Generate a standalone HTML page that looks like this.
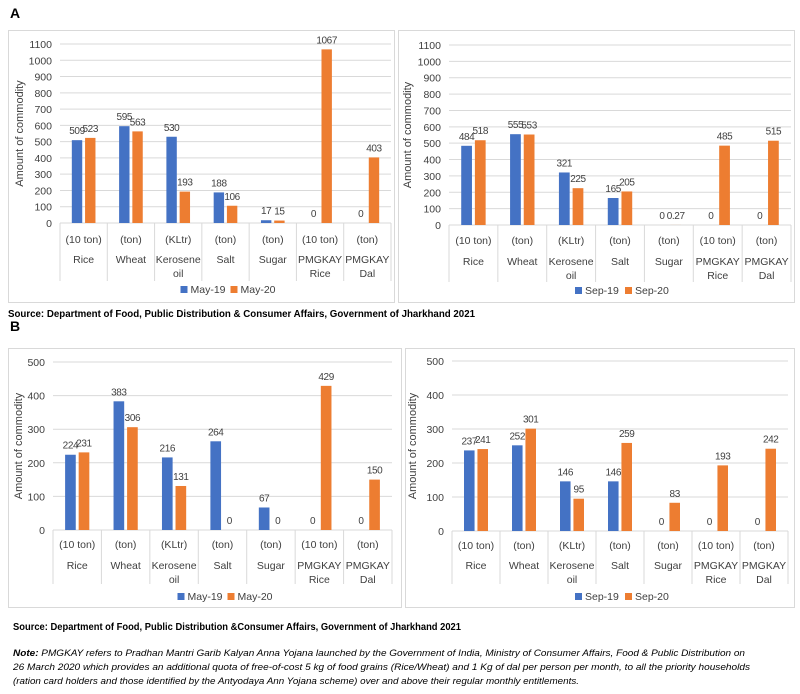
<!DOCTYPE html>
<html><head><meta charset="utf-8"><style>
body{margin:0;background:#fff;}
svg{display:block;font-family:"Liberation Sans",sans-serif;}
</style></head><body>
<svg id="fig" width="800" height="694" viewBox="0 0 800 694">
<text x="10" y="18" font-size="14" font-weight="bold">A</text>
<text x="10" y="331" font-size="14" font-weight="bold">B</text>
<text x="8" y="317" font-size="10" font-weight="bold" textLength="467" lengthAdjust="spacingAndGlyphs">Source: Department of Food, Public Distribution &amp; Consumer Affairs, Government of Jharkhand 2021</text>
<text x="13" y="630" font-size="10" font-weight="bold" textLength="448" lengthAdjust="spacingAndGlyphs">Source: Department of Food, Public Distribution &amp;Consumer Affairs, Government of Jharkhand 2021</text>
<text x="13" y="656" font-size="9.5" font-style="italic" textLength="732" lengthAdjust="spacingAndGlyphs"><tspan font-weight="bold">Note:</tspan> PMGKAY refers to Pradhan Mantri Garib Kalyan Anna Yojana launched by the Government of India, Ministry of Consumer Affairs, Food &amp; Public Distribution on</text>
<text x="13" y="670" font-size="9.5" font-style="italic" textLength="737" lengthAdjust="spacingAndGlyphs">26 March 2020 which provides an additional quota of free-of-cost 5 kg of food grains (Rice/Wheat) and 1 Kg of dal per person per month, to all the priority households</text>
<text x="13" y="684" font-size="9.5" font-style="italic" textLength="566" lengthAdjust="spacingAndGlyphs">(ration card holders and those identified by the Antyodaya Ann Yojana scheme) over and above their regular monthly entitlements.</text>
</svg>
<script>
const categories = ["Rice","Wheat","Kerosene oil","Salt","Sugar","PMGKAY Rice","PMGKAY Dal"];
const units = ["(10 ton)","(ton)","(KLtr)","(ton)","(ton)","(10 ton)","(ton)"];
const may19A = [509,595,530,188,17,0,0];
const may20A = [523,563,193,106,15,1067,403];
const sep19A = [484,555,321,165,0,0,0];
const sep20A = [518,553,225,205,0.27,485,515];
const may19B = [224,383,216,264,67,0,0];
const may20B = [231,306,131,0,0,429,150];
const sep19B = [237,252,146,146,0,0,0];
const sep20B = [241,301,95,259,83,193,242];
const ticksA = [0,100,200,300,400,500,600,700,800,900,1000,1100];
const ticksB = [0,100,200,300,400,500];
const legendMay = ["May-19","May-20"];
const legendSep = ["Sep-19","Sep-20"];

const NS="http://www.w3.org/2000/svg";
const svg=document.getElementById('fig');
function mk(tag,attrs,parent){const e=document.createElementNS(NS,tag);for(const k in attrs)e.setAttribute(k,attrs[k]);(parent||svg).appendChild(e);return e;}
const BLUE="#4472c4",ORANGE="#ed7d31",TXT="#404040",GRID="#d9d9d9";

function chart(id,box,p,s1,s2,ticks,maxV,leg){
  const g=mk('g',{});
  
  
  const bx=mk('rect',{x:box[0]+.5,y:box[1]+.5,width:box[2]-box[0],height:box[3]-box[1],fill:'#fff',stroke:'#d9d9d9'},g);
  
  
  const y=v=>p.y0-(v/maxV)*(p.y0-p.yTop);
  ticks.forEach(t=>{
    const l=mk('line',{x1:p.x0,x2:p.x1,y1:y(t),y2:y(t),stroke:GRID},g);
    
    
    const tx=mk('text',{x:p.x0-8,y:y(t)+4,'text-anchor':'end','font-size':10.5,fill:TXT},g);
    
    
    tx.textContent=t;
  });
  const ay=mk('text',{transform:`translate(${p.titleX},${(p.y0+p.yTop)/2}) rotate(-90)`,'text-anchor':'middle','font-size':11,fill:TXT},g);
  
  
  ay.textContent="Amount of commodity";
  const n=categories.length, cw=(p.x1-p.x0)/n, bw=cw*0.22, gap=cw*0.03;
  for(let i=0;i<=n;i++){
    const l=mk('line',{x1:p.x0+i*cw,x2:p.x0+i*cw,y1:p.y0,y2:p.yBot,stroke:GRID},g);
    
    
  }
  categories.forEach((c,i)=>{
    const cx=p.x0+(i+0.5)*cw;
    [[s1,BLUE,cx-gap-bw,'series-1'],[s2,ORANGE,cx+gap,'series-2']].forEach(([arr,col,bx0,nm])=>{
      const v=arr[i];
      const r=mk('rect',{x:bx0,y:y(v),width:bw,height:Math.max(0,p.y0-y(v)),fill:col},g);
      
      
      const t=mk('text',{x:bx0+bw/2,y:y(v)-6,'text-anchor':'middle','font-size':10,'letter-spacing':'-0.4',fill:TXT},g);
      
      
      t.textContent=v;
    });
    const u=mk('text',{x:cx,y:p.uY,'text-anchor':'middle','font-size':10.5,fill:TXT},g);
    
    
    u.textContent=units[i];
    const parts=c.split(' ');
    const lines=parts.length>1?[parts[0],parts.slice(1).join(' ')]:[c];
    lines.forEach((ln,k)=>{
      const t=mk('text',{x:cx,y:p.nY+k*14,'text-anchor':'middle','font-size':10.5,fill:TXT},g);
      
      
      t.textContent=ln;
    });
  });
  const lx=(p.x0+p.x1)/2-45;
  [[BLUE,leg[0],lx],[ORANGE,leg[1],lx+50]].forEach(([col,lab,x])=>{
    const r=mk('rect',{x:x,y:p.lY-7,width:7,height:7,fill:col},g);
    
    
    const t=mk('text',{x:x+10,y:p.lY,'font-size':10.5,fill:TXT},g);
    
    
    t.textContent=lab;
  });
}
chart('chart-a-may',[8,30,394,302],{x0:60,x1:391,y0:223,yTop:44,yBot:281,titleX:23,uY:243,nY:263,lY:293},may19A,may20A,ticksA,1100,legendMay);
chart('chart-a-sep',[398,30,794,302],{x0:449,x1:791,y0:225,yTop:45,yBot:282,titleX:411,uY:244,nY:265,lY:294},sep19A,sep20A,ticksA,1100,legendSep);
chart('chart-b-may',[8,348,401,607],{x0:53,x1:392,y0:530,yTop:362,yBot:584,titleX:22,uY:548,nY:569,lY:600},may19B,may20B,ticksB,500,legendMay);
chart('chart-b-sep',[405,348,794,607],{x0:452,x1:788,y0:531,yTop:361,yBot:584,titleX:416,uY:549,nY:569,lY:600},sep19B,sep20B,ticksB,500,legendSep);
</script>
</body></html>
